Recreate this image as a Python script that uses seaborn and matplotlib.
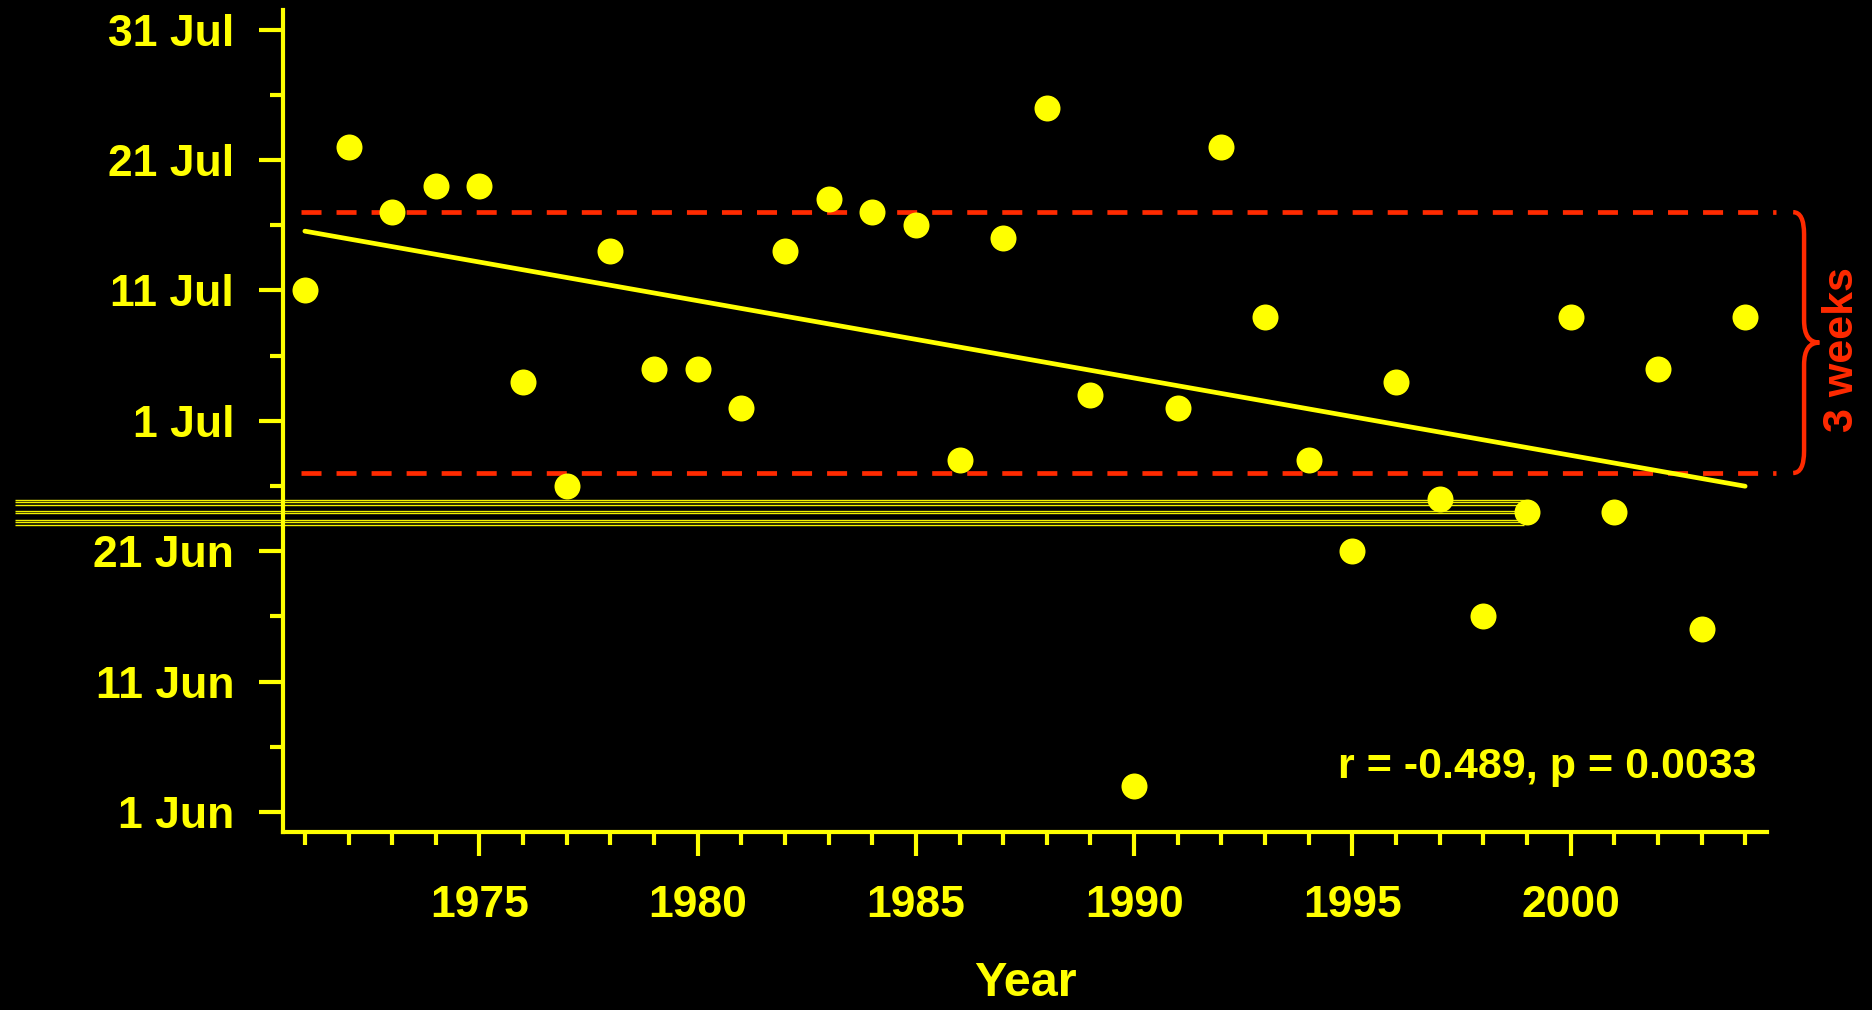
import numpy as np
import pandas as pd
import seaborn as sns
import matplotlib.pyplot as plt
from matplotlib.path import Path
from matplotlib.patches import PathPatch
from matplotlib.ticker import MultipleLocator, FixedLocator, FixedFormatter

# date of event each year, as days after 1 June
years = list(range(1971, 2005))
days = [40, 51, 46, 48, 48, 33, 25, 43, 34, 34,
        31, 43, 47, 46, 45, 27, 44, 54, 32, 2,
        31, 51, 38, 27, 20, 33, 24, 15, 23, 38,
        23, 34, 14, 38]

ytick_days = [0, 10, 20, 30, 40, 50, 60]
ytick_labels = ['1 Jun', '11 Jun', '21 Jun', '1 Jul', '11 Jul', '21 Jul', '31 Jul']
xtick_years = [1975, 1980, 1985, 1990, 1995, 2000]

band_days = [26, 46]          # the "3 weeks" window
stats_label = 'r = -0.489, p = 0.0033'
# stray horizontal streaks in the original image
streak_days = [23.95, 23.75, 23.56, 23.10, 22.90, 22.41, 22.21, 22.02]

df = pd.DataFrame({'Year': years, 'day': days})

YEL = '#ffff00'
RED = '#ff2a00'

sns.set_style('dark', {'axes.facecolor': 'black', 'figure.facecolor': 'black'})
plt.rcParams['font.family'] = ['Liberation Sans', 'DejaVu Sans']
plt.rcParams['font.weight'] = 'bold'

fig = plt.figure(figsize=(18.72, 10.10), dpi=100)
fig.patch.set_facecolor('black')
ax = fig.add_axes([0.1512, 0.1762, 0.7927, 0.8138])
ax.set_facecolor('black')

# streaks
ax.hlines(streak_days, 1964.36, 1998.94, colors=YEL, lw=1.0, alpha=0.95,
          clip_on=False, zorder=1)

# 3-week window
ax.hlines(band_days, 1970.9, 2004.7, colors=RED, lw=3.4,
          linestyles=[(0, (4.24, 3.18))], clip_on=False, zorder=2)

sns.regplot(data=df, x='Year', y='day', scatter=False, ci=None, truncate=True,
            line_kws={'color': YEL, 'lw': 3.4, 'zorder': 3}, ax=ax)
sns.scatterplot(data=df, x='Year', y='day', color=YEL, s=350, linewidth=0,
                zorder=4, ax=ax, clip_on=False)

ax.set_xlim(1970.5, 2004.5)
ax.set_ylim(-1.54, 61.5)

ax.xaxis.set_major_locator(FixedLocator(xtick_years))
ax.xaxis.set_minor_locator(MultipleLocator(1))
ax.yaxis.set_major_locator(FixedLocator(ytick_days))
ax.yaxis.set_major_formatter(FixedFormatter(ytick_labels))
ax.yaxis.set_minor_locator(MultipleLocator(5))

for side in ['top', 'right']:
    ax.spines[side].set_visible(False)
for side in ['left', 'bottom']:
    ax.spines[side].set_visible(True)
    ax.spines[side].set_color(YEL)
    ax.spines[side].set_linewidth(3.0)

ax.tick_params(which='both', bottom=True, left=True, top=False, right=False)
ax.tick_params(which='major', direction='out', length=17.3, width=3.0,
               color=YEL, labelcolor=YEL, labelsize=32)
ax.tick_params(which='minor', direction='out', length=9.4, width=3.0, color=YEL)
ax.tick_params(axis='x', which='major', pad=21)
ax.tick_params(axis='y', which='major', pad=18)
for lab in ax.get_xticklabels() + ax.get_yticklabels():
    lab.set_fontweight('bold')
ax.grid(False)

ax.set_xlabel('Year', fontsize=35, fontweight='bold', color=YEL, labelpad=25)
ax.set_ylabel('')

ax.text(0.993, 0.0657, stats_label, transform=ax.transAxes, ha='right',
        va='baseline', fontsize=31, fontweight='bold', color=YEL)

# curly brace next to the window
lo, hi = band_days
mid = (lo + hi) / 2
x0, x1, x2, r = 2005.1, 2005.35, 2005.7, 1.7
verts = [(x0, hi), (x1, hi), (x1, hi - r),
         (x1, mid + r), (x1, mid), (x2, mid),
         (x1, mid), (x1, mid - r),
         (x1, lo + r), (x1, lo), (x0, lo)]
codes = [Path.MOVETO, Path.CURVE3, Path.CURVE3,
         Path.LINETO, Path.CURVE3, Path.CURVE3,
         Path.CURVE3, Path.CURVE3,
         Path.LINETO, Path.CURVE3, Path.CURVE3]
ax.add_patch(PathPatch(Path(verts, codes), fc='none', ec=RED, lw=3.2,
                       clip_on=False))
fig.text(0.984, 0.654, '3 weeks', rotation=90, ha='center', va='center',
         fontsize=31, fontweight='bold', color=RED)

fig.savefig('out.png', dpi=100, facecolor='black')
